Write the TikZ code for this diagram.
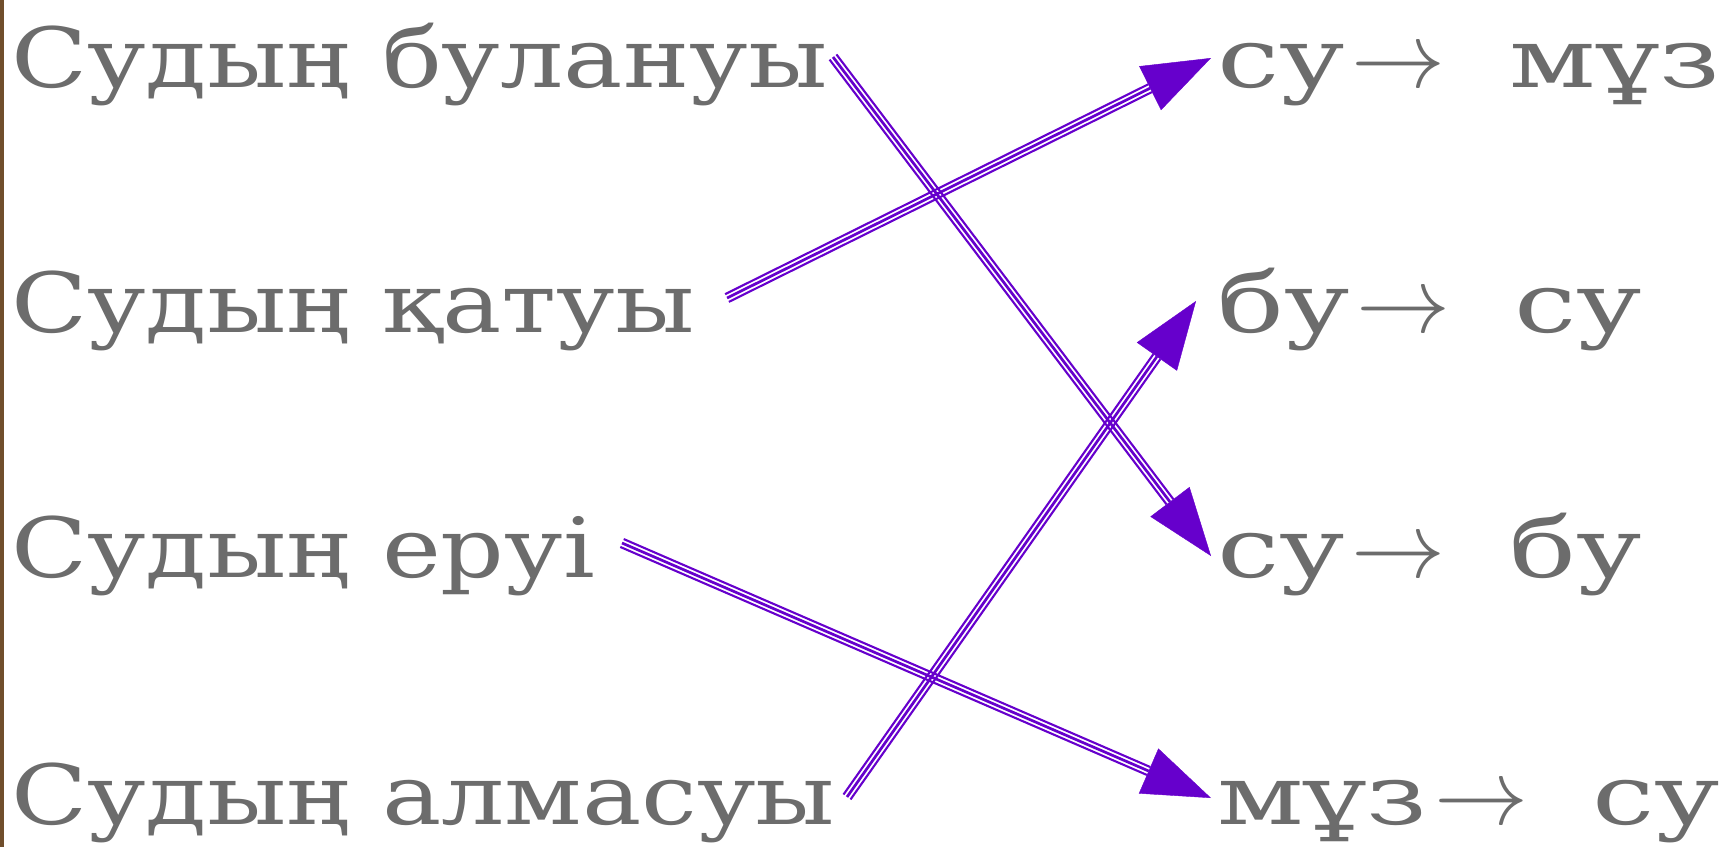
\RequirePackage{fix-cm}
\documentclass[tikz,border=0pt]{standalone}
\usepackage{fontspec}
\setmainfont{DejaVu Serif}[FakeStretch=1.2]
\newfontfamily\widefont{DejaVu Serif}[FakeStretch=1.34]
\usetikzlibrary{arrows.meta,calc}
\definecolor{inkgray}{RGB}{108,108,108}
\definecolor{linkpurple}{RGB}{102,0,204}
\definecolor{edgebrown}{RGB}{112,78,44}
\newcommand{\chgarrow}{\hspace{7pt}{\fontsize{94}{100}\selectfont$\rightarrow$}\hspace{64pt}}

\begin{document}
\begin{tikzpicture}[x=1pt, y=-1pt, line cap=butt,
        lbl/.style={anchor=base west, inner sep=0pt, text=inkgray, font=\fontsize{83}{90}\selectfont},
        res/.style={lbl, font=\fontsize{83}{90}\selectfont\widefont},
        rail/.style={linkpurple, line width=2.1pt},
        spine/.style={linkpurple, line width=2.7pt, -{Triangle[length=68pt,width=49pt,line width=0.4pt]}}]
    \useasboundingbox (0,0) rectangle (1735,847);
    \fill[edgebrown] (0,0) rectangle (4,847);
    \node[lbl] (l1) at (11,87) {Судың булануы};
    \node[lbl] (l2) at (11,332) {Судың қатуы};
    \node[lbl] (l3) at (11,577) {Судың еруі};
    \node[lbl] (l4) at (11,824) {Судың алмасуы};
    \node[res] (r1) at (1217,87) {су\chgarrow мұз};
    \node[res] (r2) at (1217,332) {бу\chgarrow су};
    \node[res] (r3) at (1217,577) {су\chgarrow бу};
    \node[res] (r4) at (1217,824) {мұз\chgarrow су};
    \coordinate (a1) at (833,57);
    \coordinate (b1) at (1211,556);
    \coordinate (a2) at (727,298);
    \coordinate (b2) at (1211,58);
    \coordinate (a3) at (622,543);
    \coordinate (b3) at (1211,798);
    \coordinate (a4) at (847,797);
    \coordinate (b4) at (1196,301);
    \foreach \s/\e in {a1/b1,a2/b2,a3/b3,a4/b4}{
        \coordinate (hb) at ($(\e)!68pt!(\s)$);
        \draw[rail] ($(\s)!4.3pt!90:(\e)$) -- ($(hb)!4.3pt!-90:(\s)$);
        \draw[rail] ($(\s)!4.3pt!-90:(\e)$) -- ($(hb)!4.3pt!90:(\s)$);
        \draw[spine] (\s) -- (\e);
    }
\end{tikzpicture}
\end{document}
